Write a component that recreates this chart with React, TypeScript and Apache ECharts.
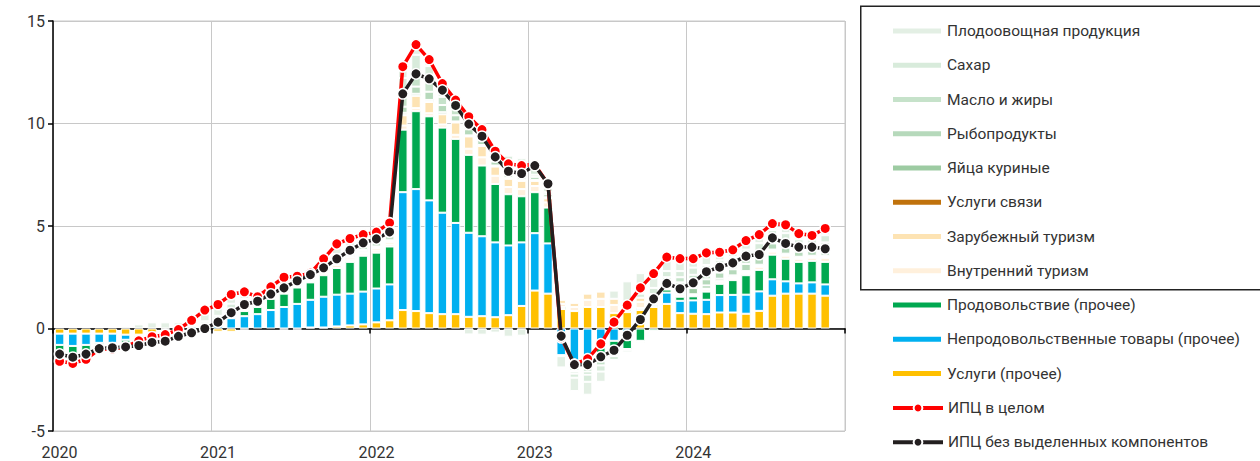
import React, { useEffect, useRef } from "react";
import * as echarts from "echarts";

const years = [2020, 2021, 2022, 2023, 2024];
const categories: string[] = [];
years.forEach((y) => {
  for (let m = 1; m <= 12; m++) categories.push(`${y}-${m < 10 ? "0" + m : m}`);
});

// Contributions (p.p.), Jan 2020 – Nov 2024
const servicesOther = [
  -0.25, -0.25, -0.25, -0.25, -0.25, -0.3, -0.3, -0.2, -0.05, -0.05, -0.05, -0.05,
  -0.15, -0.15, -0.05, 0, 0, 0, 0, 0.05, 0.05, 0.1, 0.15, 0.2,
  0.3, 0.4, 0.9, 0.85, 0.75, 0.7, 0.7, 0.57, 0.6, 0.55, 0.65, 1.1,
  1.85, 1.7, 0.95, 0.85, 1.05, 1.05, 0.75, 0.8, 0.9, 1.05, 1.2, 0.75,
  0.72, 0.7, 0.78, 0.78, 0.72, 0.86, 1.6, 1.7, 1.7, 1.7, 1.6,
];
const nonFoodOther = [
  -0.55, -0.6, -0.55, -0.45, -0.45, -0.25, -0.05, -0.05, -0.05, 0, 0.1, 0.05,
  0.15, 0.5, 0.6, 0.7, 0.9, 1.05, 1.2, 1.35, 1.5, 1.55, 1.55, 1.6,
  1.65, 1.75, 5.75, 5.95, 5.5, 4.95, 4.45, 4.1, 3.9, 3.65, 3.4, 3.1,
  2.8, 2.45, -1.3, -1.9, -1.45, -0.75, -0.6, -0.55, 0.1, 0.1, 0.55, 0.6,
  0.65, 0.7, 0.85, 0.86, 0.93, 0.95, 0.8, 0.6, 0.5, 0.55, 0.55,
];
const foodOther = [
  -0.35, -0.4, -0.3, -0.1, -0.05, -0.15, -0.1, -0.1, -0.1, -0.05, -0.05, 0,
  0.1, 0.05, 0.25, 0.35, 0.55, 0.65, 0.8, 0.85, 1.05, 1.3, 1.55, 1.75,
  1.75, 1.85, 3.05, 3.8, 4.1, 4.15, 4.1, 3.8, 3.45, 2.85, 2.5, 2.25,
  2.0, 1.75, 0.1, -0.15, -0.4, -0.55, -0.4, -0.45, -0.6, -0.1, 0.15, 0.2,
  0.2, 0.4, 0.55, 0.72, 0.95, 1.05, 1.2, 1.1, 1.05, 1.05, 1.1,
];
const domesticTourism = [
  0, 0, 0, 0, 0, 0, 0, 0, 0, 0, 0, 0,
  0, 0, 0, 0, 0, 0, 0.05, 0.05, 0.1, 0.15, 0.1, 0.1,
  0.1, 0.1, 0.2, 0.15, 0.15, 0.15, 0.2, 0.3, 0.4, 0.4, 0.35, 0.35,
  0.3, 0.25, 0.15, 0.2, 0.35, 0.4, 0.4, 0.2, 0.3, 0.25, 0.1, 0.1,
  0.05, 0.1, 0.1, 0.1, 0.1, 0.15, 0.15, 0.15, 0.15, 0.15, 0.2,
];
const foreignTourism = [
  0, 0, 0, 0, 0, 0, 0, 0, 0, 0, 0, 0,
  0, 0, 0, 0, 0, -0.05, -0.05, 0, 0, 0.1, 0.1, 0.05,
  0.1, 0.1, 0.5, 0.6, 0.55, 0.5, 0.6, 0.6, 0.55, 0.45, 0.4, 0.4,
  0.25, 0.2, 0.2, 0.2, 0.3, 0.35, 0.3, 0.15, 0.2, 0.2, 0.05, 0.05,
  0.05, 0.05, 0.05, 0.05, 0.05, 0.05, 0.05, 0.05, 0.05, 0.05, 0.05,
];
const communication = [
  0, 0, 0, 0, 0, 0, 0, 0, 0, 0, 0, 0,
  0, 0, 0, 0, 0, 0, 0, 0, 0, 0, 0, 0,
  0, 0, 0.02, 0, 0, 0, 0, 0, 0, 0, 0, 0,
  0, 0, 0.05, 0.05, 0.05, 0.05, 0, 0, 0, 0, 0, 0,
  0, 0, 0, 0, 0, 0, 0, 0, 0, 0, 0,
];
const eggs = [
  0, 0, 0, 0, 0, -0.1, -0.1, -0.1, -0.1, -0.05, -0.15, 0.1,
  0.02, 0.06, 0.04, 0, 0.03, 0.05, 0, 0, 0.05, 0.03, 0.04, 0.05,
  0.05, 0.05, 0.1, 0.1, 0.1, 0.1, 0.05, 0.05, 0.05, 0.05, 0.05, 0.05,
  0.05, 0.05, 0, 0, -0.1, -0.1, -0.09, 0, 0, 0.03, 0.1, 0.25,
  0.3, 0.15, 0.1, 0.08, 0.05, 0.05, 0.05, 0.05, 0.05, 0.05, 0.05,
];
const fish = [
  0, 0, 0, 0, 0, 0, 0, 0, 0, 0, 0, 0,
  0, 0.05, 0.05, 0.05, 0.05, 0.1, 0.05, 0.05, 0.1, 0.05, 0.1, 0.08,
  0.05, 0.05, 0.3, 0.35, 0.4, 0.35, 0.3, 0.3, 0.25, 0.2, 0.2, 0.2,
  0.15, 0.15, 0, -0.05, -0.15, -0.2, -0.1, -0.06, -0.05, 0, 0.15, 0.3,
  0.35, 0.3, 0.3, 0.3, 0.35, 0.35, 0.3, 0.3, 0.25, 0.25, 0.3,
];
const oils = [
  -0.05, -0.05, -0.05, 0, 0, -0.1, -0.15, -0.15, -0.15, -0.1, 0, 0.1,
  0.2, 0.3, 0.3, 0.15, 0.15, 0.25, 0.15, 0.1, 0.15, 0.2, 0.25, 0.25,
  0.2, 0.25, 0.6, 0.6, 0.55, 0.4, 0.35, 0.35, 0.3, 0.2, 0.15, 0.15,
  0.1, 0.1, -0.05, -0.1, -0.15, -0.2, -0.15, -0.1, -0.07, 0.05, 0.2, 0.25,
  0.3, 0.3, 0.25, 0.25, 0.3, 0.3, 0.3, 0.3, 0.3, 0.3, 0.35,
];
const sugar = [
  -0.1, -0.1, -0.1, -0.05, -0.05, -0.1, -0.1, -0.1, -0.15, -0.1, 0.05, 0.1,
  0.15, 0.25, 0.2, 0.1, 0.1, 0.15, 0.1, 0.05, 0.1, 0.15, 0.1, 0.1,
  0.1, 0.15, 0.8, 0.95, 0.7, 0.4, 0.2, 0.55, 0.5, 0.5, 0.73, 0.7,
  0.3, 0.25, 0, -0.2, -0.35, -0.3, -0.2, 0.15, 0.2, 0.3, 0.3, 0.3,
  0.35, 0.4, 0.35, 0.35, 0.4, 0.4, 0.35, 0.4, 0.3, 0.25, 0.35,
];
const fruitVeg = [
  -0.3, -0.3, -0.25, -0.15, -0.2, 0.1, 0.2, 0.3, 0.3, 0.3, 0.5, 0.6,
  0.7, 0.6, 0.4, 0.2, 0.25, 0.3, 0.25, 0.2, 0.3, 0.5, 0.45, 0.4,
  0.4, 0.45, 0.55, 0.5, 0.32, 0.25, 0.19, -0.29, -0.3, -0.2, -0.4, -0.35,
  0.2, 0.15, -0.55, -0.65, -0.63, -0.5, 0.4, 1.0, 1.0, 0.8, 0.68, 0.61,
  0.44, 0.59, 0.39, 0.35, 0.44, 0.42, 0.32, 0.41, 0.28, 0.19, 0.33,
];
const cpiTotal = [
  -1.6, -1.7, -1.5, -1.0, -1.0, -0.9, -0.6, -0.4, -0.3, -0.05, 0.4, 0.9,
  1.17, 1.66, 1.79, 1.55, 2.03, 2.5, 2.55, 2.7, 3.4, 4.13, 4.39, 4.58,
  4.7, 5.15, 12.77, 13.85, 13.12, 11.95, 11.14, 10.33, 9.7, 8.65, 8.03, 7.95,
  8.0, 7.05, -0.45, -1.75, -1.48, -0.75, 0.31, 1.14, 1.98, 2.68, 3.48, 3.41,
  3.41, 3.69, 3.72, 3.84, 4.29, 4.58, 5.12, 5.06, 4.63, 4.54, 4.88,
];
const cpiCore = [
  -1.25, -1.4, -1.25, -0.98, -0.94, -0.9, -0.83, -0.68, -0.62, -0.38, -0.21, 0.0,
  0.31, 0.77, 1.17, 1.33, 1.68, 1.98, 2.33, 2.63, 2.96, 3.4, 3.82, 4.18,
  4.37, 4.71, 11.45, 12.42, 12.18, 11.63, 10.88, 9.97, 9.38, 8.37, 7.67, 7.56,
  7.95, 7.06, -0.37, -1.76, -1.76, -1.38, -1.06, -0.33, 0.44, 1.45, 2.2, 1.94,
  2.23, 2.77, 2.99, 3.2, 3.53, 3.61, 4.42, 4.15, 3.97, 3.97, 3.89,
];

const barSeriesDefs = [
  { name: "Услуги (прочее)", data: servicesOther, color: "#ffc000" },
  { name: "Непродовольственные товары (прочее)", data: nonFoodOther, color: "#00b0f0" },
  { name: "Продовольствие (прочее)", data: foodOther, color: "#00a850" },
  { name: "Внутренний туризм", data: domesticTourism, color: "#fff0dc" },
  { name: "Зарубежный туризм", data: foreignTourism, color: "#fde3b3" },
  { name: "Услуги связи", data: communication, color: "#c0720c" },
  { name: "Яйца куриные", data: eggs, color: "#9dcba2" },
  { name: "Рыбопродукты", data: fish, color: "#b6d9bb" },
  { name: "Масло и жиры", data: oils, color: "#c6e2ca" },
  { name: "Сахар", data: sugar, color: "#d8ebdb" },
  { name: "Плодоовощная продукция", data: fruitVeg, color: "#e3efe4" },
];

const legendOrder = [
  "Плодоовощная продукция",
  "Сахар",
  "Масло и жиры",
  "Рыбопродукты",
  "Яйца куриные",
  "Услуги связи",
  "Зарубежный туризм",
  "Внутренний туризм",
  "Продовольствие (прочее)",
  "Непродовольственные товары (прочее)",
  "Услуги (прочее)",
];
const lineNames = ["ИПЦ в целом", "ИПЦ без выделенных компонентов"];

const FONT = "Roboto, 'Open Sans', sans-serif";

export default function App() {
  const ref = useRef<HTMLDivElement>(null);
  useEffect(() => {
    if (!ref.current) return;
    const chart = echarts.init(ref.current, undefined, { renderer: "svg" });
    const bars = barSeriesDefs.map((s) => ({
      name: s.name,
      type: "bar",
      stack: "total",
      barWidth: 9.5,
      xAxisIndex: 0,
      itemStyle: { color: s.color, borderColor: "#ffffff", borderWidth: 1 },
      emphasis: { disabled: true },
      data: s.data.map((v) => (v === 0 ? null : v)),
    }));
    const lines = [
      { name: lineNames[0], data: cpiTotal, color: "#ff0000" },
      { name: lineNames[1], data: cpiCore, color: "#231f20" },
    ].map((l) => ({
      name: l.name,
      type: "line",
      xAxisIndex: 0,
      data: l.data,
      symbol: "circle",
      symbolSize: 10.5,
      showSymbol: true,
      showAllSymbol: true,
      lineStyle: { color: l.color, width: 3.5 },
      itemStyle: { color: l.color, borderColor: "#ffffff", borderWidth: 1.5 },
      emphasis: { disabled: true },
      z: 5,
    }));
    const legendText = { fontFamily: FONT, fontSize: 15.5, color: "#333333", lineHeight: 20 };
    chart.setOption({
      animation: false,
      backgroundColor: "#ffffff",
      textStyle: { fontFamily: FONT },
      grid: {
        left: 53,
        right: 415,
        top: 21,
        bottom: 30,
        show: true,
        borderColor: "#c8c8c8",
        borderWidth: 1,
        backgroundColor: "transparent",
      },
      legend: [
        {
          orient: "vertical",
          left: 891,
          top: 21,
          padding: 0,
          itemWidth: 50,
          itemHeight: 7,
          itemGap: 14.25,
          selectedMode: false,
          textStyle: legendText,
          data: legendOrder.map((n) => ({ name: n, icon: "rect" })),
        },
        {
          orient: "vertical",
          left: 891,
          top: 398,
          padding: 0,
          itemWidth: 50,
          itemHeight: 11,
          itemGap: 14.25,
          selectedMode: false,
          textStyle: legendText,
          lineStyle: { width: 4 },
          data: lineNames.map((n) => ({ name: n })),
        },
      ],
      graphic: [
        {
          type: "rect",
          shape: { x: 860.75, y: 6.25, width: 420, height: 283.5 },
          style: { fill: "none", stroke: "#222222", lineWidth: 1.5 },
          silent: true,
        },
      ],
      xAxis: [
        {
          type: "category",
          data: categories,
          position: "bottom",
          boundaryGap: true,
          axisLine: { show: false, onZero: false },
          axisTick: { show: false },
          axisLabel: {
            interval: 11,
            margin: 13,
            lineHeight: 16,
            fontFamily: FONT,
            fontSize: 16,
            color: "#333333",
            formatter: (v: string) => v.slice(0, 4),
          },
          splitLine: { show: true, interval: 11, lineStyle: { color: "#c8c8c8", width: 1 } },
        },
        {
          type: "category",
          data: categories,
          position: "bottom",
          boundaryGap: true,
          axisLine: { show: true, onZero: true, lineStyle: { color: "#000000", width: 1.5 } },
          axisTick: { show: true, interval: 11, length: 5, lineStyle: { color: "#000000", width: 1.5 } },
          axisLabel: { show: false },
          splitLine: { show: false },
        },
      ],
      yAxis: {
        type: "value",
        min: -5,
        max: 15,
        interval: 5,
        axisLine: { show: true, lineStyle: { color: "#000000", width: 1.5 } },
        axisTick: { show: true, length: 5, lineStyle: { color: "#000000", width: 1.5 } },
        axisLabel: { margin: 8, fontFamily: FONT, fontSize: 16, color: "#333333" },
        splitLine: { show: true, lineStyle: { color: "#c8c8c8", width: 1 } },
      },
      series: [...bars, ...lines],
    });
    return () => chart.dispose();
  }, []);
  return (
    <div
      ref={ref}
      style={{ position: "fixed", left: 0, top: 0, width: 1260, height: 461 }}
    />
  );
}
